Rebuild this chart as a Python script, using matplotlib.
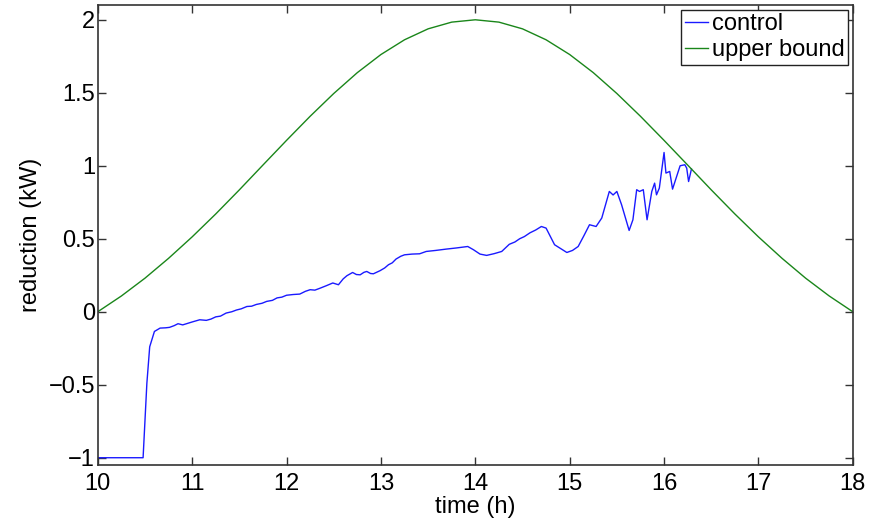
import numpy as np
import matplotlib
matplotlib.use('Agg')
import matplotlib.pyplot as plt

# upper bound (kW), read every 0.25 h from 10 h to 18 h
t_bound = [10.0, 10.25, 10.5, 10.75, 11.0, 11.25, 11.5, 11.75, 12.0, 12.25, 12.5,
           12.75, 13.0, 13.25, 13.5, 13.75, 14.0, 14.25, 14.5, 14.75, 15.0, 15.25,
           15.5, 15.75, 16.0, 16.25, 16.5, 16.75, 17.0, 17.25, 17.5, 17.75, 18.0]
upper_bound = [0.0, 0.108, 0.230, 0.366, 0.513, 0.670, 0.835, 1.005, 1.174, 1.339,
               1.495, 1.638, 1.762, 1.863, 1.938, 1.984, 2.0, 1.984, 1.938, 1.863,
               1.762, 1.638, 1.495, 1.339, 1.174, 1.005, 0.835, 0.670, 0.513, 0.366,
               0.230, 0.108, 0.0]

# control (kW)
t_control = [10.0, 10.48, 10.52, 10.55, 10.60, 10.66, 10.72, 10.76, 10.81, 10.85,
             10.90, 10.94, 11.0, 11.08, 11.15, 11.20, 11.25, 11.30, 11.36, 11.42,
             11.47, 11.52, 11.58, 11.63, 11.68, 11.74, 11.79, 11.85, 11.90, 11.95,
             12.0, 12.07, 12.14, 12.20, 12.25, 12.30, 12.35, 12.42, 12.49, 12.55,
             12.60, 12.64, 12.70, 12.74, 12.78, 12.82, 12.85, 12.89, 12.92, 12.99,
             13.04, 13.08, 13.12, 13.16, 13.21, 13.25, 13.33, 13.41, 13.48, 13.58,
             13.69, 13.80, 13.92, 13.98, 14.05, 14.12, 14.20, 14.28, 14.36, 14.42,
             14.47, 14.52, 14.58, 14.64, 14.70, 14.75, 14.84, 14.97, 15.03, 15.09,
             15.15, 15.21, 15.28, 15.34, 15.42, 15.46, 15.50, 15.55, 15.63, 15.67,
             15.71, 15.74, 15.78, 15.82, 15.87, 15.90, 15.92, 15.95, 16.00, 16.02,
             16.06, 16.09, 16.17, 16.22, 16.24, 16.26, 16.29]
control = [-1.0, -1.0, -0.49, -0.24, -0.135, -0.112, -0.110, -0.107, -0.095, -0.082,
           -0.090, -0.082, -0.070, -0.055, -0.059, -0.050, -0.035, -0.030, -0.009, 0.000,
           0.012, 0.020, 0.036, 0.038, 0.050, 0.058, 0.071, 0.078, 0.095, 0.100,
           0.113, 0.118, 0.121, 0.140, 0.151, 0.148, 0.160, 0.178, 0.197, 0.185,
           0.225, 0.247, 0.269, 0.255, 0.253, 0.270, 0.276, 0.262, 0.260, 0.281,
           0.300, 0.322, 0.335, 0.361, 0.380, 0.390, 0.395, 0.397, 0.413, 0.420,
           0.429, 0.437, 0.447, 0.425, 0.395, 0.386, 0.398, 0.413, 0.462, 0.478,
           0.500, 0.515, 0.541, 0.560, 0.584, 0.573, 0.459, 0.406, 0.420, 0.447,
           0.520, 0.596, 0.584, 0.642, 0.824, 0.800, 0.824, 0.733, 0.557, 0.630,
           0.836, 0.824, 0.836, 0.630, 0.824, 0.881, 0.801, 0.847, 1.091, 0.950,
           0.961, 0.840, 1.0, 1.007, 0.984, 0.892, 0.977]

plt.rcParams['font.family'] = ['Liberation Sans', 'DejaVu Sans']

fig = plt.figure(figsize=(8.81, 5.19), dpi=100)
ax = fig.add_axes([0.111, 0.104, 0.857, 0.886])

ax.plot(t_control, control, color='#1a1aff', lw=1.0, label='control')
ax.plot(t_bound, upper_bound, color='#1a861a', lw=1.0, label='upper bound')

ax.set_xlim(10, 18)
ax.set_ylim(-1.05, 2.1)
ax.set_xticks(np.arange(10, 19, 1))
ax.set_yticks([-1, -0.5, 0, 0.5, 1, 1.5, 2])
ax.set_yticklabels(['\u22121', '\u22120.5', '0', '0.5', '1', '1.5', '2'])
ax.tick_params(direction='in', top=True, right=True, length=6, width=1,
               labelsize=17, color='#333333')
ax.tick_params(axis='x', pad=6)
ax.tick_params(axis='y', pad=2)
for s in ax.spines.values():
    s.set_color('#333333')
    s.set_linewidth(1.2)

ax.set_xlabel('time (h)', fontsize=17, labelpad=0.5)
ax.set_ylabel('reduction (kW)', fontsize=17, labelpad=5)

leg = ax.legend(loc='upper right', fontsize=17, fancybox=False, framealpha=1,
                edgecolor='#222222', handlelength=1.0, handletextpad=0.15,
                borderpad=0.15, labelspacing=0.15, borderaxespad=0.2)
leg.get_frame().set_linewidth(1.0)

fig.savefig('out.png', dpi=100)
